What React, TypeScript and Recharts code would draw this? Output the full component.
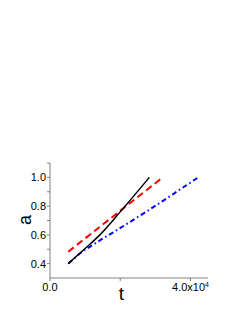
// Three growth curves a(t): solid black, dashed red, dash-dot blue

import React from 'react';
import { LineChart, Line, XAxis, YAxis } from 'recharts';

const blackT = [5200, 10000, 14200, 20000, 28300];
const blackA = [0.4, 0.505, 0.6, 0.76, 1.0];
const redT = [5200, 32100];
const redA = [0.483, 1.0];
const blueT = [5200, 8500, 12800, 18500, 27000, 42200];
const blueA = [0.4, 0.47, 0.54, 0.625, 0.755, 1.0];

const xTicks = [0, 20000, 40000];
const yTicks = [0.4, 0.5, 0.6, 0.7, 0.8, 0.9, 1.0, 1.1];
const yLabeled = [0.4, 0.6, 0.8, 1.0];

const toPoints = (ts: number[], as: number[]) => ts.map((t, i) => ({ t, a: as[i] }));

const FONT = '"Liberation Sans", Arial, sans-serif';
const AXIS = '#808080';

const XTick = (props: any) => {
  const { x, y, payload } = props;
  if (payload.value === 0) {
    return (
      <text x={x} y={y} dy="0.71em" textAnchor="middle" fontSize={11} fontFamily={FONT} fill="#000">
        0.0
      </text>
    );
  }
  if (payload.value === 40000) {
    return (
      <text x={x} y={y} dy="0.71em" textAnchor="middle" fontSize={11} fontFamily={FONT} fill="#000">
        <tspan>4.0x10</tspan>
        <tspan dy={-4} fontSize={7}>4</tspan>
      </text>
    );
  }
  return null;
};

const YTick = (props: any) => {
  const { x, y, payload } = props;
  if (!yLabeled.some((v) => Math.abs(v - payload.value) < 1e-6)) return null;
  return (
    <text x={x} y={y} dy="0.36em" textAnchor="end" fontSize={11} fontFamily={FONT} fill="#000">
      {payload.value.toFixed(1)}
    </text>
  );
};

const App: React.FC = () => {
  return (
    <div style={{ position: 'absolute', left: 0, top: 0, width: 248, height: 320, background: '#fff' }}>
      <LineChart width={248} height={320} margin={{ top: 163, right: 40, bottom: 0, left: 0 }}>
        <XAxis
          type="number"
          dataKey="t"
          domain={[0, 45000]}
          ticks={xTicks}
          interval={0}
          tick={<XTick />}
          tickSize={3}
          tickMargin={2}
          height={42}
          stroke={AXIS}
          allowDataOverflow
          label={{
            content: () => (
              <text x={121.5} y={300} textAnchor="middle" fontSize={19} fontFamily={FONT} fill="#000">
                t
              </text>
            ),
          }}
        />
        <YAxis
          type="number"
          domain={[0.3, 1.1]}
          ticks={yTicks}
          interval={0}
          tick={<YTick />}
          tickSize={3}
          tickMargin={1}
          width={50}
          stroke={AXIS}
          allowDataOverflow
          label={{
            content: () => (
              <text
                x={24.5}
                y={220}
                transform="rotate(-90, 24.5, 220)"
                textAnchor="middle"
                dominantBaseline="central"
                fontSize={18}
                fontFamily={FONT}
                fill="#000"
              >
                a
              </text>
            ),
          }}
        />
        <Line
          data={toPoints(redT, redA)}
          dataKey="a"
          type="linear"
          stroke="#ff0000"
          strokeWidth={2}
          strokeDasharray="7 4"
          dot={false}
          activeDot={false}
          isAnimationActive={false}
        />
        <Line
          data={toPoints(blueT, blueA)}
          dataKey="a"
          type="monotone"
          stroke="#0000ff"
          strokeWidth={2}
          strokeDasharray="5 3 1.5 3"
          dot={false}
          activeDot={false}
          isAnimationActive={false}
        />
        <Line
          data={toPoints(blackT, blackA)}
          dataKey="a"
          type="monotone"
          stroke="#000000"
          strokeWidth={1.5}
          dot={false}
          activeDot={false}
          isAnimationActive={false}
        />
      </LineChart>
    </div>
  );
};

export default App;
